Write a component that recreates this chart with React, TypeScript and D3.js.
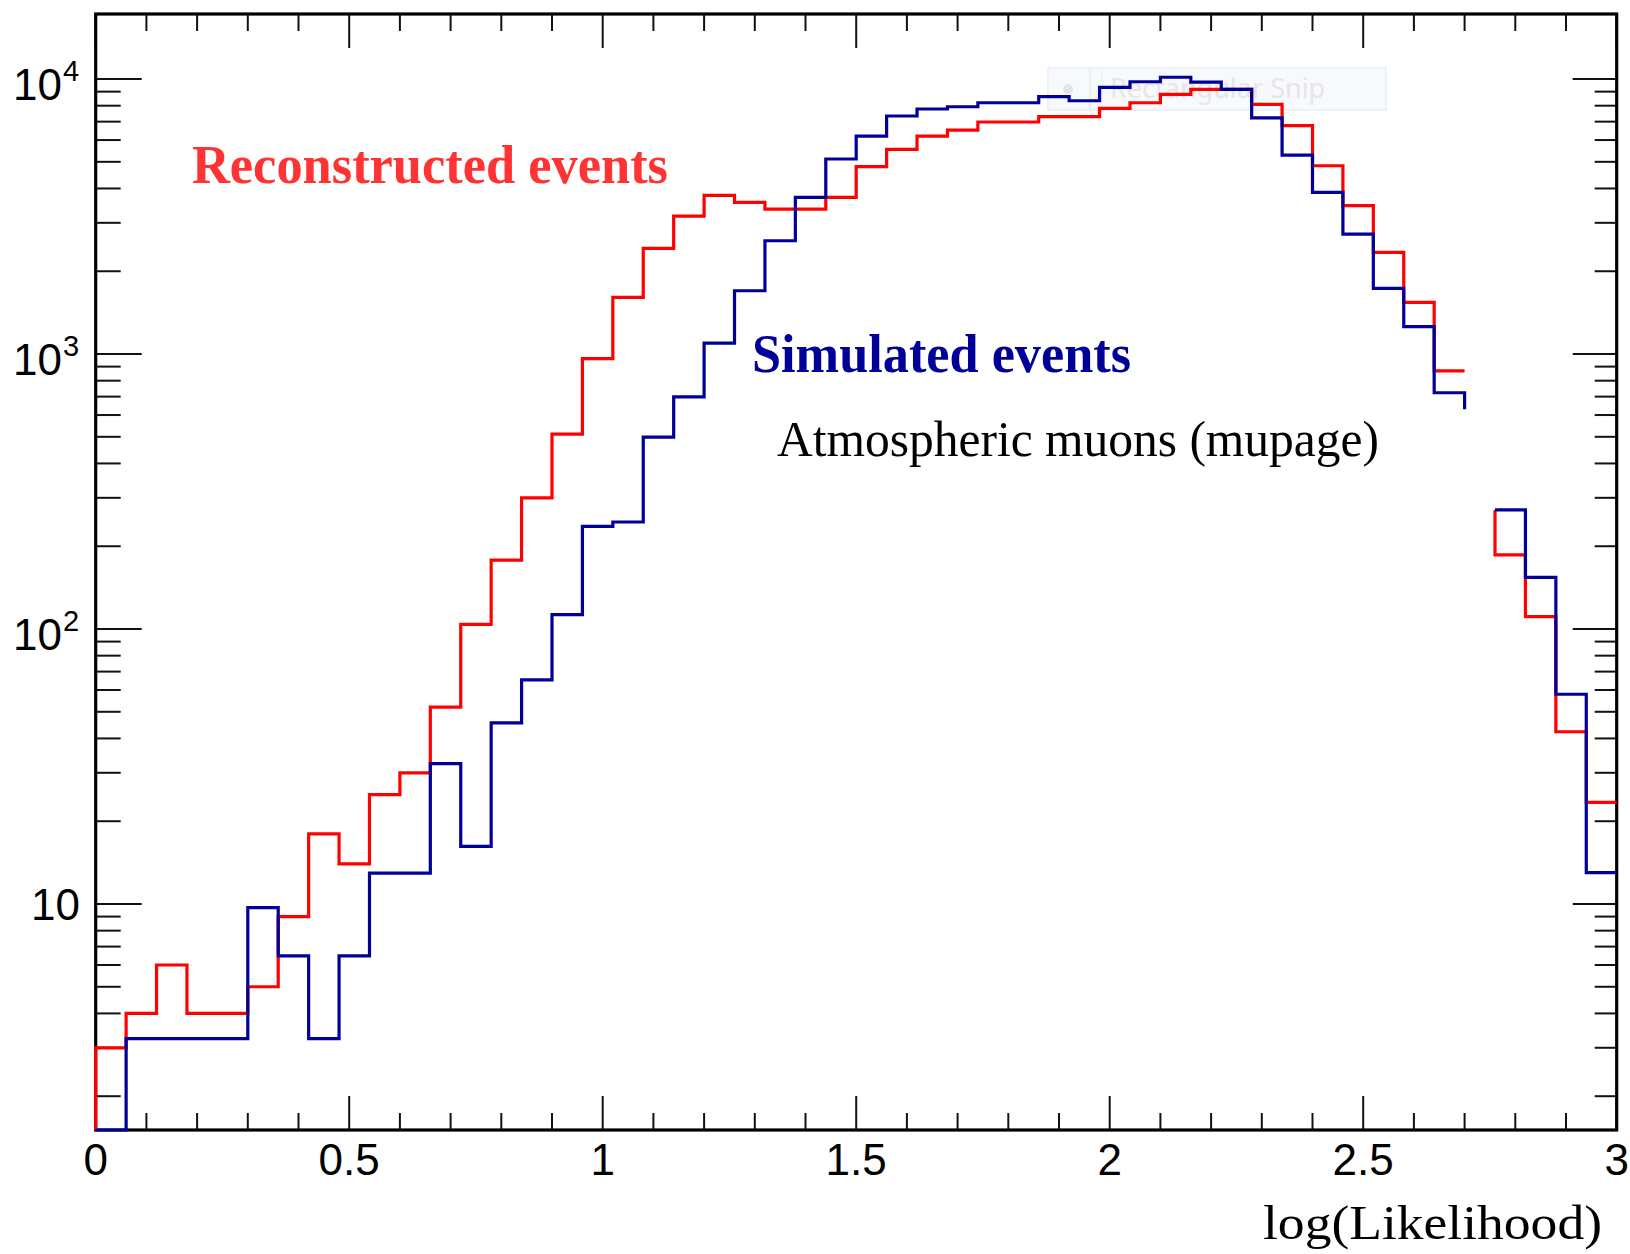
import React from "react";
import * as d3 from "d3";

// ---- data ----
const binWidth = 0.06;
const reconstructed = [
  3, 4, 6, 4, 4, 5, 9, 18, 14, 25,
  30, 52, 104, 178, 300, 511, 962, 1607, 2421, 3171,
  3773, 3560, 3367, 3367, 3714, 4799, 5548, 6204, 6524, 6978,
  6978, 7295, 7295, 7824, 8200, 8798, 9174, 9174, 8091, 6766,
  4839, 3462, 2344, 1542, 869, 0, 186, 111, 42.3, 23.4,
];
const simulated = [
  1, 3.24, 3.24, 3.24, 3.24, 9.7, 6.48, 3.24, 6.48, 12.96,
  12.96, 32.4, 16.2, 45.6, 65.3, 112.8, 236, 245, 499, 699,
  1095, 1699, 2582, 3714, 5119, 6204, 7337, 7780, 7929, 8200,
  8200, 8625, 8338, 9329, 9776, 10150, 9752, 9174, 7230, 5290,
  3873, 2731, 1733, 1257, 723, 0, 271, 154, 57.9, 13.0,
];
// line ends drawn by the original around the empty bin
const simulatedGapDropTo = 630;
const reconstructedGapRiseFrom = 271;

const xMajorTicks = [0, 0.5, 1, 1.5, 2, 2.5, 3];
const xTickLabels = ["0", "0.5", "1", "1.5", "2", "2.5", "3"];
const yDecades = [10, 100, 1000, 10000];
const yDecadeExp = ["1", "2", "3", "4"];
const yDomain = [1.507, 17240];
const xDomain = [0, 3];

const W = 1630;
const H = 1254;
const L = 95.7, R = 1616.7, T = 14, B = 1130;

const x = d3.scaleLinear().domain(xDomain).range([L, R]);
const y = d3.scaleLog().domain(yDomain).range([B, T]).clamp(true);

function stepPath(vals: number[], dropAfterGap?: number, riseAfterGap?: number) {
  let d = "";
  let open = false;
  for (let i = 0; i < vals.length; i++) {
    const v = vals[i];
    const x0 = x(i * binWidth);
    const x1 = x((i + 1) * binWidth);
    if (v <= 0) {
      if (open && dropAfterGap !== undefined) d += `V${y(dropAfterGap)}`;
      open = false;
      continue;
    }
    if (!open) {
      if (i === 0) d += `M${x0},${y(yDomain[0])}V${y(v)}`;
      else if (riseAfterGap !== undefined) d += `M${x0},${y(riseAfterGap)}V${y(v)}`;
      else d += `M${x0},${y(v)}`;
      open = true;
    } else {
      d += `V${y(v)}`;
    }
    d += `H${x1}`;
  }
  return d;
}

export default function App() {
  const xMinor = d3.range(0, 3.0001, 0.1).filter(
    (t) => !xMajorTicks.some((m) => Math.abs(m - t) < 1e-6)
  );
  const yMinor: number[] = [];
  for (let dec = 1; dec <= 10000; dec *= 10) {
    for (let k = 2; k <= 9; k++) {
      const v = k * dec;
      if (v > yDomain[0] && v < yDomain[1]) yMinor.push(v);
    }
  }
  const tickStroke = "#111";
  const sans = "'Liberation Sans', Arial, Helvetica, sans-serif";
  const serif = "'Liberation Serif', 'Times New Roman', serif";

  return (
    <svg
      width={W}
      height={H}
      viewBox={`0 0 ${W} ${H}`}
      style={{ position: "absolute", left: 0, top: 0, background: "#fff" }}
    >
      <rect x={0} y={0} width={W} height={H} fill="#fff" />

      {/* faint screen-capture overlay */}
      <g>
        <rect x={1048} y={68} width={338} height={42} fill="#f7f9fc" stroke="#e6eef8" strokeWidth={1.5} />
        <line x1={1090} y1={68} x2={1090} y2={110} stroke="#e6eef8" strokeWidth={1.5} />
        <line x1={1102} y1={68} x2={1102} y2={110} stroke="#eef2f8" strokeWidth={1.5} />
        <circle cx={1068} cy={89} r={5} fill="#e4e4e4" />
        <text x={1110} y={98} fontFamily="'Noto Sans', sans-serif" fontSize={27} fill="#e6e6e6">
          Rectangular Snip
        </text>
      </g>

      {/* ticks */}
      <g stroke={tickStroke} strokeWidth={2}>
        {xMajorTicks.map((t) => (
          <g key={`xM${t}`}>
            <line x1={x(t)} x2={x(t)} y1={B} y2={B - 34} />
            <line x1={x(t)} x2={x(t)} y1={T} y2={T + 34} />
          </g>
        ))}
        {xMinor.map((t) => (
          <g key={`xm${t}`}>
            <line x1={x(t)} x2={x(t)} y1={B} y2={B - 17} />
            <line x1={x(t)} x2={x(t)} y1={T} y2={T + 17} />
          </g>
        ))}
        {yDecades.map((t) => (
          <g key={`yM${t}`}>
            <line x1={L} x2={L + 46} y1={y(t)} y2={y(t)} />
            <line x1={R} x2={R - 44} y1={y(t)} y2={y(t)} />
          </g>
        ))}
        {yMinor.map((t) => (
          <g key={`ym${t}`}>
            <line x1={L} x2={L + 25} y1={y(t)} y2={y(t)} />
            <line x1={R} x2={R - 22} y1={y(t)} y2={y(t)} />
          </g>
        ))}
      </g>

      {/* frame */}
      <rect x={L} y={T} width={R - L} height={B - T} fill="none" stroke="#000" strokeWidth={3.2} />

      {/* histograms */}
      <path
        d={stepPath(reconstructed, undefined, reconstructedGapRiseFrom)}
        fill="none"
        stroke="#ff0000"
        strokeWidth={3.2}
      />
      <path
        d={stepPath(simulated, simulatedGapDropTo, undefined)}
        fill="none"
        stroke="#000099"
        strokeWidth={3.2}
      />

      {/* x tick labels */}
      <g fontFamily={sans} fontSize={44} fill="#000" textAnchor="middle">
        {xMajorTicks.map((t, i) => (
          <text key={`xl${t}`} x={x(t)} y={1175}>
            {xTickLabels[i]}
          </text>
        ))}
      </g>

      {/* y tick labels */}
      <g fontFamily={sans} fill="#000">
        {yDecades.map((t, i) =>
          i === 0 ? (
            <text key={`yl${t}`} x={80} y={y(t) + 16} fontSize={44} textAnchor="end">
              10
            </text>
          ) : (
            <g key={`yl${t}`}>
              <text x={62} y={y(t) + 21} fontSize={44} textAnchor="end">
                10
              </text>
              <text x={63} y={y(t) + 1.5} fontSize={29} textAnchor="start">
                {yDecadeExp[i]}
              </text>
            </g>
          )
        )}
      </g>

      {/* annotations */}
      <text
        x={192}
        y={183}
        fontFamily={serif}
        fontWeight="bold"
        fontSize={55}
        fill="#ff3333"
        textLength={476}
        lengthAdjust="spacingAndGlyphs"
      >
        Reconstructed events
      </text>
      <text
        x={752}
        y={372}
        fontFamily={serif}
        fontWeight="bold"
        fontSize={55}
        fill="#000099"
        textLength={379}
        lengthAdjust="spacingAndGlyphs"
      >
        Simulated events
      </text>
      <text
        x={777}
        y={456}
        fontFamily={serif}
        fontSize={50}
        fill="#000"
        textLength={602}
        lengthAdjust="spacingAndGlyphs"
      >
        Atmospheric muons (mupage)
      </text>
      <text
        x={1263}
        y={1239}
        fontFamily={serif}
        fontSize={49}
        fill="#000"
        textLength={339}
        lengthAdjust="spacingAndGlyphs"
      >
        log(Likelihood)
      </text>
    </svg>
  );
}
